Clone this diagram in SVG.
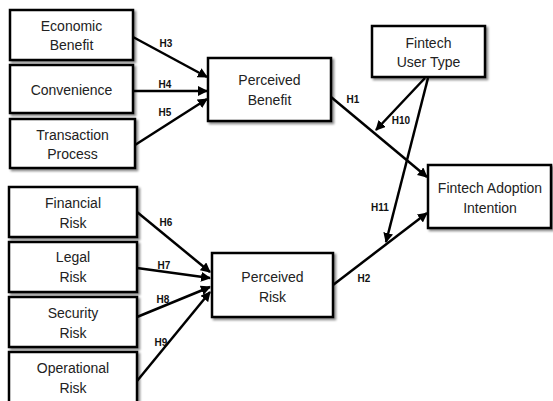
<svg xmlns="http://www.w3.org/2000/svg" width="553" height="401" viewBox="0 0 553 401">
<defs>
<marker id="ah" viewBox="0 0 10 10" refX="9" refY="5" markerWidth="4" markerHeight="4" markerUnits="strokeWidth" orient="auto">
<path d="M0,0 L10,5 L0,10 z" fill="#000"/>
</marker>
<filter id="sh" x="-10%" y="-10%" width="130%" height="140%">
<feDropShadow dx="2" dy="2" stdDeviation="1.2" flood-color="#000" flood-opacity="0.45"/>
</filter>
</defs>
<style>
.box{fill:#fff;stroke:#000;stroke-width:2.5;filter:url(#sh)}
.t{font-family:"Liberation Sans",Arial,sans-serif;font-size:14px;text-anchor:middle;fill:#222}
.h{font-family:"Liberation Sans",Arial,sans-serif;font-size:10px;font-weight:bold;text-anchor:middle;fill:#111}
.c{stroke:#000;stroke-width:2.5;fill:none;marker-end:url(#ah)}
</style>
<rect width="553" height="401" fill="#fff"/>
<g id="economic-benefit"><rect class="box" x="10" y="10" width="123" height="50"/><text class="t" x="71.5" y="31">Economic</text><text class="t" x="71.5" y="50">Benefit</text></g>
<g id="convenience"><rect class="box" x="10" y="65" width="123" height="48"/><text class="t" x="71.5" y="95">Convenience</text></g>
<g id="transaction-process"><rect class="box" x="10" y="119" width="125" height="49"/><text class="t" x="72.5" y="140">Transaction</text><text class="t" x="72.5" y="159">Process</text></g>
<g id="perceived-benefit"><rect class="box" x="208" y="58" width="123" height="63"/><text class="t" x="269.5" y="85">Perceived</text><text class="t" x="269.5" y="105">Benefit</text></g>
<g id="fintech-user-type"><rect class="box" x="372" y="26" width="113" height="51"/><text class="t" x="428.5" y="48">Fintech</text><text class="t" x="428.5" y="67">User Type</text></g>
<g id="fintech-adoption-intention"><rect class="box" x="428" y="165" width="123" height="63"/><text class="t" x="490" y="193">Fintech Adoption</text><text class="t" x="490" y="213">Intention</text></g>
<g id="perceived-risk"><rect class="box" x="212" y="253" width="121" height="64"/><text class="t" x="272.5" y="282">Perceived</text><text class="t" x="272.5" y="302">Risk</text></g>
<g id="financial-risk"><rect class="box" x="9" y="187" width="128" height="50"/><text class="t" x="73" y="208">Financial</text><text class="t" x="73" y="228">Risk</text></g>
<g id="legal-risk"><rect class="box" x="9" y="242" width="128" height="50"/><text class="t" x="73" y="262">Legal</text><text class="t" x="73" y="282">Risk</text></g>
<g id="security-risk"><rect class="box" x="9" y="297" width="128" height="50"/><text class="t" x="73" y="318">Security</text><text class="t" x="73" y="338">Risk</text></g>
<g id="operational-risk"><rect class="box" x="9" y="352" width="128" height="60"/><text class="t" x="73" y="373">Operational</text><text class="t" x="73" y="393">Risk</text></g>
<g id="connectors">
<line class="c" x1="133" y1="37" x2="207" y2="77"/>
<line class="c" x1="133" y1="91" x2="207" y2="91"/>
<line class="c" x1="135" y1="145" x2="207" y2="99"/>
<line class="c" x1="331" y1="97" x2="427" y2="177"/>
<line class="c" x1="425" y1="78" x2="376" y2="130"/>
<line class="c" x1="428" y1="78" x2="386" y2="242"/>
<line class="c" x1="333" y1="285" x2="427" y2="213"/>
<line class="c" x1="137" y1="212" x2="210" y2="272"/>
<line class="c" x1="137" y1="268" x2="210" y2="278"/>
<line class="c" x1="137" y1="317" x2="210" y2="287"/>
<line class="c" x1="137" y1="381" x2="210" y2="292"/>
<text class="h" x="166" y="47">H3</text>
<text class="h" x="165" y="88">H4</text>
<text class="h" x="165" y="116">H5</text>
<text class="h" x="353" y="103">H1</text>
<text class="h" x="401" y="124">H10</text>
<text class="h" x="380" y="211">H11</text>
<text class="h" x="364" y="282">H2</text>
<text class="h" x="166" y="226">H6</text>
<text class="h" x="164" y="269">H7</text>
<text class="h" x="163" y="303">H8</text>
<text class="h" x="161" y="346">H9</text>
</g>
</svg>
